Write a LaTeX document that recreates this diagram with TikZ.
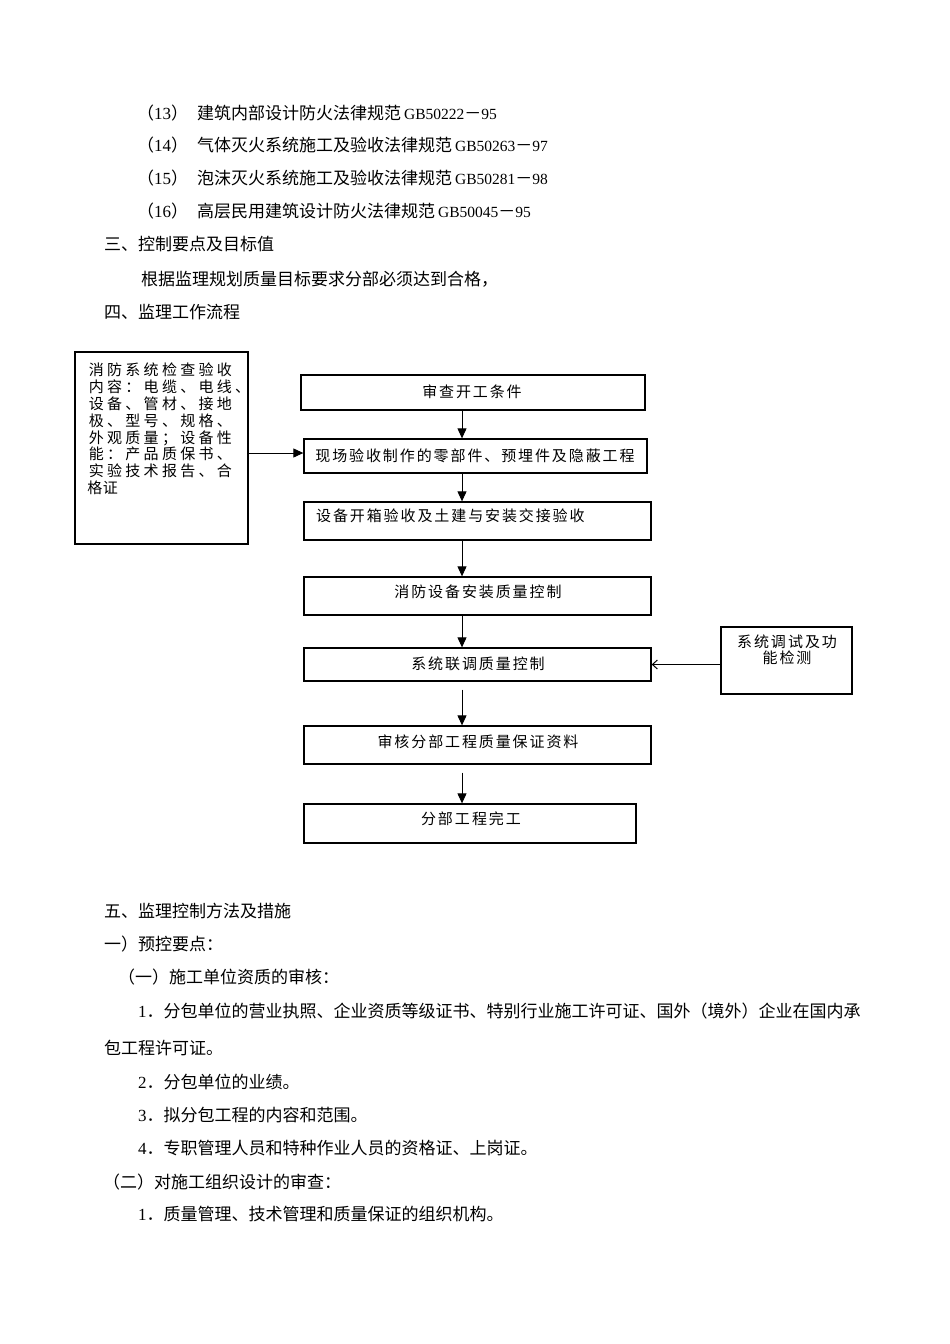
\documentclass[tikz,border=0pt]{standalone}
\usepackage{fontspec}
\setmainfont{Noto Sans CJK SC}
\newfontfamily\lat{Liberation Serif}
\usetikzlibrary{arrows.meta}
\makeatletter
\newcommand\pitched[2]{\def\pitch@w{#1}\pitch@loop#2\relax}
\def\pitch@loop#1{\ifx\relax#1\else\makebox[\pitch@w][c]{#1}\expandafter\pitch@loop\fi}
\makeatother
\newcommand\gb[1]{\hspace{3pt}{\lat\fontsize{15.5}{18}\selectfont #1}}
\begin{document}
\begin{tikzpicture}[x=1pt,y=-1pt,
  body/.style={anchor=west,inner sep=0pt,font=\fontsize{17}{20}\selectfont},
  flowbox/.style={draw,line width=1.3pt,inner sep=0pt},
  boxtext/.style={inner sep=0pt,font=\fontsize{15}{17}\selectfont},
  arr/.style={line width=1pt,-{Triangle[length=10pt,width=9pt]}},
  back/.style={line width=1pt,-{Straight Barb[length=5pt,width=9pt]}}]
\useasboundingbox[fill=white] (0,0) rectangle (950,1344);

% ---- body text, top ----
\node[body] (n13) at (137,113) {（{\lat 13}）};
\node[body] (s13) at (197,113) {建筑内部设计防火法律规范\gb{GB50222}－{\lat\fontsize{15.5}{18}\selectfont 95}};
\node[body] (n14) at (137,145) {（{\lat 14}）};
\node[body] (s14) at (197,145) {气体灭火系统施工及验收法律规范\gb{GB50263}－{\lat\fontsize{15.5}{18}\selectfont 97}};
\node[body] (n15) at (137,178) {（{\lat 15}）};
\node[body] (s15) at (197,178) {泡沫灭火系统施工及验收法律规范\gb{GB50281}－{\lat\fontsize{15.5}{18}\selectfont 98}};
\node[body] (n16) at (137,211) {（{\lat 16}）};
\node[body] (s16) at (197,211) {高层民用建筑设计防火法律规范\gb{GB50045}－{\lat\fontsize{15.5}{18}\selectfont 95}};
\node[body] (h3) at (104,244) {三、控制要点及目标值};
\node[body] (p3) at (141,279) {根据监理规划质量目标要求分部必须达到合格，};
\node[body] (h4) at (104,312) {四、监理工作流程};

% ---- flow chart boxes ----
\node[flowbox,minimum width=173pt,minimum height=192pt] (L) at (161.5,448) {};
\node[flowbox,minimum width=344pt,minimum height=35pt] (b1) at (473,392.5) {};
\node[flowbox,minimum width=343pt,minimum height=34pt] (b2) at (475.5,456) {};
\node[flowbox,minimum width=347pt,minimum height=38pt] (b3) at (477.5,521) {};
\node[flowbox,minimum width=347pt,minimum height=38pt] (b4) at (477.5,596) {};
\node[flowbox,minimum width=347pt,minimum height=33pt] (b5) at (477.5,664.5) {};
\node[flowbox,minimum width=347pt,minimum height=38pt] (b6) at (477.5,745) {};
\node[flowbox,minimum width=332pt,minimum height=39pt] (b7) at (470,823.5) {};
\node[flowbox,minimum width=131pt,minimum height=67pt] (R) at (786.5,660.5) {};

% ---- box texts ----
\node[boxtext,anchor=west] (L1) at (87,370) {\pitched{18.3pt}{消防系统检查验收}};
\node[boxtext,anchor=west] (L2) at (87,387) {\pitched{18.3pt}{内容：电缆、电线、}};
\node[boxtext,anchor=west] (L3) at (87,404) {\pitched{18.3pt}{设备、管材、接地}};
\node[boxtext,anchor=west] (L4) at (87,421) {\pitched{18.3pt}{极、型号、规格、}};
\node[boxtext,anchor=west] (L5) at (87,438) {\pitched{18.3pt}{外观质量；设备性}};
\node[boxtext,anchor=west] (L6) at (87,454) {\pitched{18.3pt}{能：产品质保书、}};
\node[boxtext,anchor=west] (L7) at (87,471) {\pitched{18.3pt}{实验技术报告、合}};
\node[boxtext,anchor=west] (L8) at (87,488) {\pitched{15.5pt}{格证}};

\node[boxtext] (t1) at (472,392) {\pitched{16.9pt}{审查开工条件}};
\node[boxtext] (t2) at (475,456) {\pitched{16.9pt}{现场验收制作的零部件、预埋件及隐蔽工程}};
\node[boxtext,anchor=west] (t3) at (315,516) {\pitched{16.9pt}{设备开箱验收及土建与安装交接验收}};
\node[boxtext] (t4) at (478,592) {\pitched{16.9pt}{消防设备安装质量控制}};
\node[boxtext] (t5) at (478,664) {\pitched{16.9pt}{系统联调质量控制}};
\node[boxtext] (t6) at (478,742) {\pitched{16.9pt}{审核分部工程质量保证资料}};
\node[boxtext] (t7) at (471,819) {\pitched{17pt}{分部工程完工}};
\node[boxtext] (r1) at (787,642) {\pitched{17pt}{系统调试及功}};
\node[boxtext] (r2) at (787,658) {\pitched{17pt}{能检测}};

% ---- connectors ----
\coordinate (ax) at (462,0);
\coordinate (ay) at (0,453);
\draw[arr] (b1.south -| ax) -- (b2.north -| ax);
\draw[arr] (b2.south -| ax) -- (b3.north -| ax);
\draw[arr] (b3.south -| ax) -- (b4.north -| ax);
\draw[arr] (b4.south -| ax) -- (b5.north -| ax);
\draw[arr,shorten <=8pt] (b5.south -| ax) -- (b6.north -| ax);
\draw[arr,shorten <=8pt] (b6.south -| ax) -- (b7.north -| ax);
\draw[arr] (L.east |- ay) -- (b2.west |- ay);
\draw[back] (R.west |- b5.east) -- (b5.east);

% ---- body text, bottom ----
\node[body] (h5) at (104,911) {五、监理控制方法及措施};
\node[body] (h51) at (104,944) {一）预控要点：};
\node[body] (h511) at (118,977) {（一）施工单位资质的审核：};
\node[body] (i1) at (138,1011) {{\lat 1}．分包单位的营业执照、企业资质等级证书、特别行业施工许可证、国外（境外）企业在国内承};
\node[body] (i1b) at (104,1048) {包工程许可证。};
\node[body] (i2) at (138,1082) {{\lat 2}．分包单位的业绩。};
\node[body] (i3) at (138,1115) {{\lat 3}．拟分包工程的内容和范围。};
\node[body] (i4) at (138,1148) {{\lat 4}．专职管理人员和特种作业人员的资格证、上岗证。};
\node[body] (h512) at (103,1182) {（二）对施工组织设计的审查：};
\node[body] (j1) at (138,1214) {{\lat 1}．质量管理、技术管理和质量保证的组织机构。};
\end{tikzpicture}
\end{document}
